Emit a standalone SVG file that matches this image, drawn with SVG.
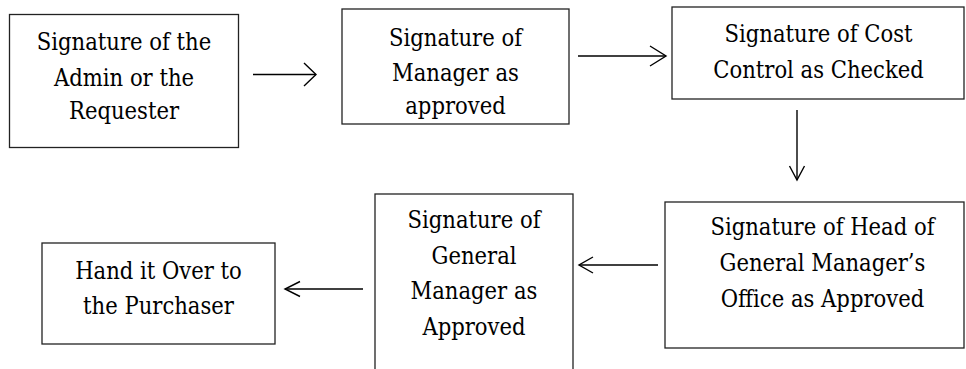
<svg xmlns="http://www.w3.org/2000/svg" width="966" height="369" viewBox="0 0 966 369">
<style>
.box{fill:#fff;stroke:#222;stroke-width:1.3}
.t{font-family:"DejaVu Serif Condensed","DejaVu Serif",serif;font-stretch:condensed;font-size:23.5px;fill:#000;text-anchor:middle}
.c{fill:none;stroke:#000;stroke-width:1.4}
</style>
<rect width="966" height="369" fill="#fff"/>
<g id="n1">
<rect class="box" x="9.5" y="14.5" width="229" height="133"/>
<text class="t" x="124" y="50">Signature of the</text>
<text class="t" x="124" y="85.5">Admin or the</text>
<text class="t" x="124" y="119">Requester</text>
</g>
<g id="n2">
<rect class="box" x="342" y="9" width="227" height="115"/>
<text class="t" x="455.5" y="46">Signature of</text>
<text class="t" x="455.5" y="80.5">Manager as</text>
<text class="t" x="455.5" y="114">approved</text>
</g>
<g id="n3">
<rect class="box" x="672" y="7" width="292" height="92"/>
<text class="t" x="818.5" y="42">Signature of Cost</text>
<text class="t" x="818.5" y="78">Control as Checked</text>
</g>
<g id="n4">
<rect class="box" x="665" y="202" width="299" height="146"/>
<text class="t" x="822.5" y="235">Signature of Head of</text>
<text class="t" x="822.5" y="271">General Manager’s</text>
<text class="t" x="822.5" y="307">Office as Approved</text>
</g>
<g id="n5">
<rect class="box" x="375" y="194" width="198" height="190"/>
<text class="t" x="474" y="228">Signature of</text>
<text class="t" x="474" y="263.5">General</text>
<text class="t" x="474" y="299">Manager as</text>
<text class="t" x="474" y="334.5">Approved</text>
</g>
<g id="n6">
<rect class="box" x="42" y="243" width="233" height="101"/>
<text class="t" x="158.5" y="279">Hand it Over to</text>
<text class="t" x="158.5" y="314">the Purchaser</text>
</g>
<g id="connectors">
<line class="c" x1="253" y1="74.5" x2="316" y2="74.5"/>
<polyline class="c" points="304,63 316,74.5 304,86"/>
<line class="c" x1="578" y1="56" x2="666" y2="56"/>
<polyline class="c" points="650,46 666,56 650,66"/>
<line class="c" x1="797" y1="110" x2="797" y2="180"/>
<polyline class="c" points="789.5,166 797,180 804.5,166"/>
<line class="c" x1="658" y1="265" x2="579" y2="265"/>
<polyline class="c" points="593,257 579,265 593,273"/>
<line class="c" x1="363" y1="289" x2="285" y2="289"/>
<polyline class="c" points="300,281.5 285,289 300,296.5"/>
</g>
</svg>
